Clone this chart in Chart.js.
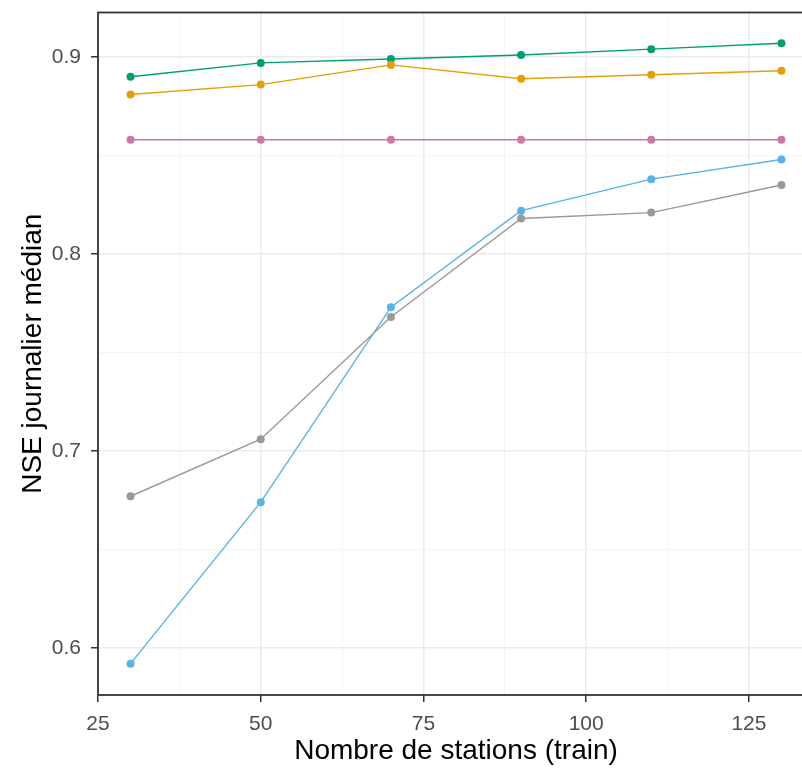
<!DOCTYPE html>
<html><head><meta charset="utf-8">
<script src="https://cdn.jsdelivr.net/npm/chart.js@4/dist/chart.umd.min.js"></script>
<style>
html,body{margin:0;padding:0;overflow:hidden;background:#fff;}
#wrap{width:818px;height:768px;position:relative;}
</style></head>
<body><div id="wrap"><canvas id="c" width="818" height="768"></canvas></div>
<script>
const stations = [30, 50, 70, 90, 110, 130];
const serieVert = [0.890, 0.897, 0.899, 0.901, 0.904, 0.907];
const serieOrange = [0.881, 0.886, 0.896, 0.889, 0.891, 0.893];
const serieRose = [0.858, 0.858, 0.858, 0.858, 0.858, 0.858];
const serieBleu = [0.592, 0.674, 0.773, 0.822, 0.838, 0.848];
const serieGris = [0.677, 0.706, 0.768, 0.818, 0.821, 0.835];
const xTicks = [25, 37.5, 50, 62.5, 75, 87.5, 100, 112.5, 125];
const xMajor = [25, 50, 75, 100, 125];
const yTicks = [0.6, 0.65, 0.7, 0.75, 0.8, 0.85, 0.9];
const yMajor = [0.6, 0.7, 0.8, 0.9];

const mk = (data, color) => ({
  data: stations.map((x, i) => ({x, y: data[i]})),
  borderColor: color, backgroundColor: color,
  borderWidth: 1.4, pointRadius: 4, pointHoverRadius: 4, pointBorderWidth: 0,
  tension: 0
});
const isMaj = (arr, v) => arr.some(m => Math.abs(m - v) < 1e-9);

const border = {
  id: 'border',
  afterDraw(ch) {
    const a = ch.chartArea, c = ch.ctx;
    c.save(); c.strokeStyle = '#333333'; c.lineWidth = 1.8;
    c.strokeRect(a.left, a.top, a.right - a.left, a.bottom - a.top);
    c.restore();
  }
};
const FONT = 'Liberation Sans, Arial, sans-serif';

new Chart(document.getElementById('c'), {
  type: 'line',
  data: { datasets: [
    mk(serieGris, '#999999'),
    mk(serieBleu, '#56B4E9'),
    mk(serieRose, '#CC79A7'),
    mk(serieOrange, '#E69F00'),
    mk(serieVert, '#009E73')
  ]},
  options: {
    responsive: false, animation: false,
    layout: { padding: { top: 12.5, right: 4, left: 0, bottom: 0 } },
    plugins: { legend: { display: false }, tooltip: { enabled: false } },
    scales: {
      x: {
        type: 'linear', min: 25, max: 135,
        afterBuildTicks: s => { s.ticks = xTicks.map(v => ({value: v})); },
        afterFit: s => { s.height = 73; s.paddingLeft = 0; s.paddingRight = 0; },
        border: { display: false },
        grid: {
          color: ctx => isMaj(xMajor, ctx.tick.value) ? '#EBEBEB' : '#F4F4F4',
          lineWidth: ctx => isMaj(xMajor, ctx.tick.value) ? 1.5 : 1,
          tickColor: ctx => isMaj(xMajor, ctx.tick.value) ? '#333333' : 'rgba(0,0,0,0)',
          tickLength: 7, tickWidth: 1.5
        },
        ticks: {
          autoSkip: false, maxRotation: 0, padding: 10,
          color: '#4D4D4D', font: { family: FONT, size: 21 },
          callback: v => isMaj(xMajor, v) ? String(v) : ''
        },
        title: { display: true, text: 'Nombre de stations (train)', color: '#000',
          font: { family: FONT, size: 28 }, padding: { top: 0, bottom: 0 } }
      },
      y: {
        type: 'linear', min: 0.5761, max: 0.9226,
        afterBuildTicks: s => { s.ticks = yTicks.map(v => ({value: v})); },
        afterFit: s => { s.width = 98; s.paddingTop = 0; s.paddingBottom = 0; },
        border: { display: false },
        grid: {
          color: ctx => isMaj(yMajor, ctx.tick.value) ? '#EBEBEB' : '#F4F4F4',
          lineWidth: ctx => isMaj(yMajor, ctx.tick.value) ? 1.5 : 1,
          tickColor: ctx => isMaj(yMajor, ctx.tick.value) ? '#333333' : 'rgba(0,0,0,0)',
          tickLength: 7, tickWidth: 1.5
        },
        ticks: {
          autoSkip: false, padding: 10,
          color: '#4D4D4D', font: { family: FONT, size: 21 },
          callback: v => isMaj(yMajor, v) ? v.toFixed(1) : ''
        },
        title: { display: true, text: 'NSE journalier médian', color: '#000',
          font: { family: FONT, size: 28 }, padding: { top: 16, bottom: 0 } }
      }
    }
  },
  plugins: [border]
});
</script></body></html>
